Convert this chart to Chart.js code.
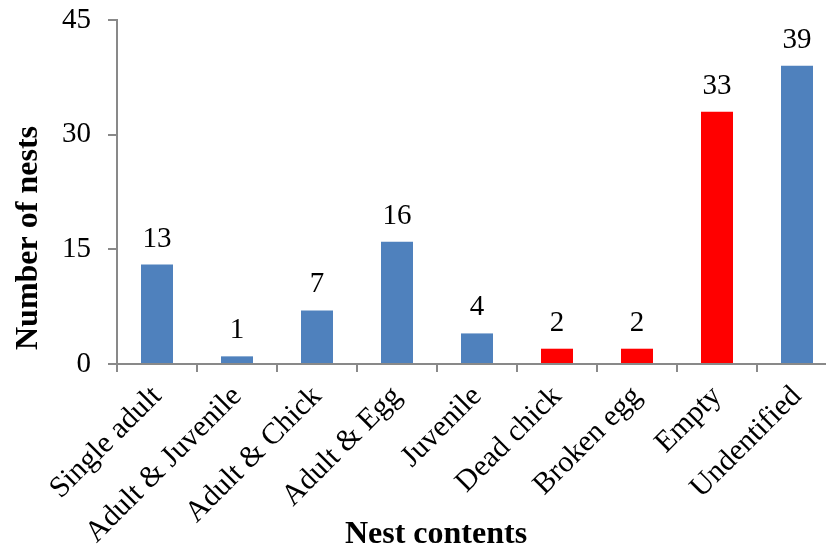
<!DOCTYPE html>
<html>
<head>
<meta charset="utf-8">
<script src="https://cdn.jsdelivr.net/npm/chart.js@4/dist/chart.umd.min.js"></script>
<style>
  html, body { margin: 0; padding: 0; background: #fff; overflow: hidden; }
  #wrap { width: 840px; height: 550px; }
</style>
</head>
<body>
<div id="wrap"><canvas id="c" width="840" height="550"></canvas></div>
<script>
const categories = ["Single adult", "Adult & Juvenile", "Adult & Chick", "Adult & Egg", "Juvenile", "Dead chick", "Broken egg", "Empty", "Undentified"];
const nestCounts = [13, 1, 7, 16, 4, 2, 2, 33, 39];
const isLoss = [false, false, false, false, false, true, true, true, false];
const yTicks = [0, 15, 30, 45];

const BLUE = "#4F81BD";
const RED = "#FF0000";
const AXIS = "#898989";
const FONT = "'Liberation Serif', 'Times New Roman', serif";

// numbers printed above each bar
const valueLabels = {
  id: "valueLabels",
  afterDatasetsDraw(chart) {
    const ctx = chart.ctx;
    const meta = chart.getDatasetMeta(0);
    ctx.save();
    ctx.font = "29px " + FONT;
    ctx.fillStyle = "#000";
    ctx.textAlign = "center";
    ctx.textBaseline = "alphabetic";
    meta.data.forEach((bar, i) => {
      ctx.fillText(String(nestCounts[i]), bar.x, bar.y - 18);
    });
    ctx.restore();
  }
};

// bold axis titles
const axisTitles = {
  id: "axisTitles",
  afterDraw(chart) {
    const ctx = chart.ctx;
    ctx.save();
    ctx.font = "bold 32px " + FONT;
    ctx.fillStyle = "#000";
    ctx.textAlign = "center";
    ctx.textBaseline = "alphabetic";
    ctx.fillText("Nest contents", 436, 543);
    ctx.translate(37, 238);
    ctx.rotate(-Math.PI / 2);
    ctx.fillText("Number of nests", 0, 0);
    ctx.restore();
  }
};

new Chart(document.getElementById("c"), {
  type: "bar",
  data: {
    labels: categories,
    datasets: [{
      data: nestCounts,
      backgroundColor: isLoss.map(l => l ? RED : BLUE),
      barPercentage: 0.4,
      categoryPercentage: 1.0
    }]
  },
  options: {
    responsive: false,
    animation: false,
    layout: { padding: { top: 20, right: 3, left: 0, bottom: 0 } },
    plugins: { legend: { display: false }, tooltip: { enabled: false } },
    scales: {
      x: {
        grid: {
          display: true,
          drawOnChartArea: false,
          drawTicks: true,
          tickLength: 8,
          color: AXIS,
          lineWidth: 2,
          offset: true
        },
        border: { display: true, color: AXIS, width: 2 },
        ticks: {
          maxRotation: 45,
          minRotation: 45,
          autoSkip: false,
          color: "#000",
          font: { family: FONT, size: 30 },
          padding: 7
        },
        afterFit(scale) {
          scale.height = 186;
          scale.paddingLeft = 0;
          scale.paddingRight = 0;
        }
      },
      y: {
        min: 0,
        max: 45,
        afterBuildTicks(scale) { scale.ticks = yTicks.map(v => ({ value: v })); },
        grid: {
          display: true,
          drawOnChartArea: false,
          drawTicks: true,
          tickLength: 9,
          color: AXIS,
          lineWidth: 2
        },
        border: { display: true, color: AXIS, width: 2 },
        ticks: {
          color: "#000",
          font: { family: FONT, size: 29 },
          padding: 17
        },
        afterFit(scale) {
          scale.width = 117;
          scale.paddingTop = 0;
          scale.paddingBottom = 0;
        }
      }
    }
  },
  plugins: [valueLabels, axisTitles]
});
</script>
</body>
</html>
